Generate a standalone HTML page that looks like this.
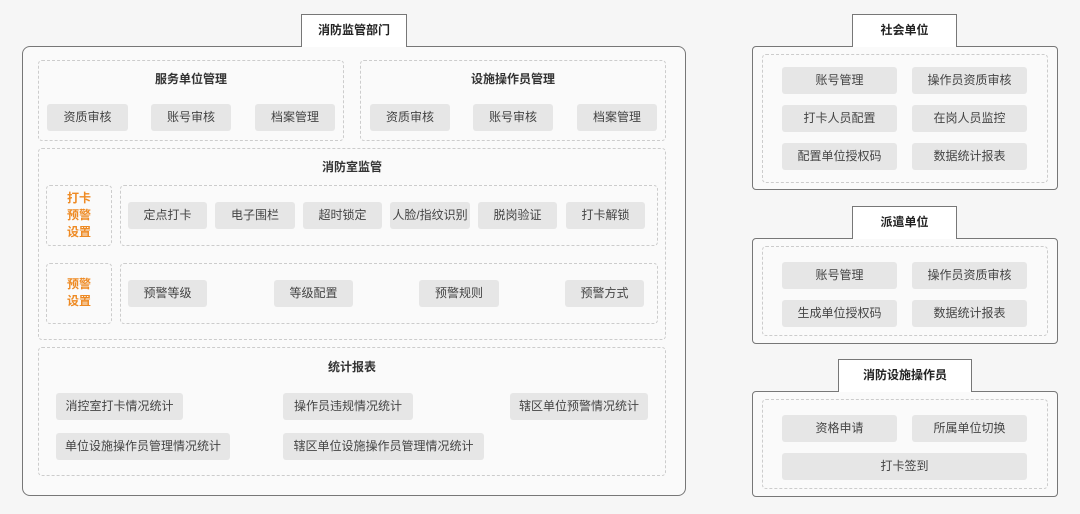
<!DOCTYPE html><html><head><meta charset="utf-8"><style>
body{margin:0;width:1080px;height:514px;background:#f6f6f6;position:relative;overflow:hidden;font-family:"Liberation Sans","Noto Sans CJK SC",sans-serif;font-size:12px;color:#444}
div{position:absolute;box-sizing:border-box}
.box{background:#fafafa;border:1.5px solid #777;border-radius:8px}
.tab{background:#fff;border:1.5px solid #777;border-bottom:none;font-weight:bold;color:#222;text-align:center;line-height:31px;font-size:12px}
.d{border:1px dashed #ccc;border-radius:4px}
.b{background:#e6e6e6;border-radius:3px;text-align:center;line-height:27px;height:27px;color:#444}
.t{font-weight:bold;color:#333;text-align:center}
.o{color:#ee8a23;font-weight:bold;text-align:center;line-height:17px}
</style></head><body>
<div class="box" style="left:22px;top:46px;width:664px;height:450px"></div>
<div class="tab" style="left:301px;top:14px;width:106px;height:33px">消防监管部门</div>
<div class="d" style="left:38px;top:60px;width:306px;height:81px"></div>
<div class="t" style="left:38px;top:70px;width:306px">服务单位管理</div>
<div class="b" style="left:47px;top:104px;width:81px">资质审核</div>
<div class="b" style="left:151px;top:104px;width:80px">账号审核</div>
<div class="b" style="left:255px;top:104px;width:80px">档案管理</div>
<div class="d" style="left:360px;top:60px;width:306px;height:81px"></div>
<div class="t" style="left:360px;top:70px;width:306px">设施操作员管理</div>
<div class="b" style="left:370px;top:104px;width:80px">资质审核</div>
<div class="b" style="left:473px;top:104px;width:80px">账号审核</div>
<div class="b" style="left:577px;top:104px;width:80px">档案管理</div>
<div class="d" style="left:38px;top:148px;width:628px;height:192px"></div>
<div class="t" style="left:38px;top:158px;width:628px">消防室监管</div>
<div class="d" style="left:46px;top:185px;width:66px;height:61px"></div>
<div class="o" style="left:46px;top:190px;width:66px">打卡<br>预警<br>设置</div>
<div class="d" style="left:120px;top:185px;width:538px;height:61px"></div>
<div class="b" style="left:128px;top:202px;width:79px">定点打卡</div>
<div class="b" style="left:215px;top:202px;width:80px">电子围栏</div>
<div class="b" style="left:303px;top:202px;width:79px">超时锁定</div>
<div class="b" style="left:390px;top:202px;width:80px">人脸/指纹识别</div>
<div class="b" style="left:478px;top:202px;width:79px">脱岗验证</div>
<div class="b" style="left:566px;top:202px;width:79px">打卡解锁</div>
<div class="d" style="left:46px;top:263px;width:66px;height:61px"></div>
<div class="o" style="left:46px;top:276px;width:66px">预警<br>设置</div>
<div class="d" style="left:120px;top:263px;width:538px;height:61px"></div>
<div class="b" style="left:128px;top:280px;width:79px">预警等级</div>
<div class="b" style="left:274px;top:280px;width:79px">等级配置</div>
<div class="b" style="left:419px;top:280px;width:80px">预警规则</div>
<div class="b" style="left:565px;top:280px;width:79px">预警方式</div>
<div class="d" style="left:38px;top:347px;width:628px;height:129px"></div>
<div class="t" style="left:38px;top:358px;width:628px">统计报表</div>
<div class="b" style="left:56px;top:393px;width:127px">消控室打卡情况统计</div>
<div class="b" style="left:283px;top:393px;width:130px">操作员违规情况统计</div>
<div class="b" style="left:510px;top:393px;width:138px">辖区单位预警情况统计</div>
<div class="b" style="left:56px;top:433px;width:174px">单位设施操作员管理情况统计</div>
<div class="b" style="left:283px;top:433px;width:201px">辖区单位设施操作员管理情况统计</div>

<div class="box" style="left:752px;top:46px;width:306px;height:144px;border-radius:4px"></div>
<div class="tab" style="left:852px;top:14px;width:105px;height:33px">社会单位</div>
<div class="d" style="left:762px;top:54px;width:286px;height:129px"></div>
<div class="b" style="left:782px;top:67px;width:115px">账号管理</div>
<div class="b" style="left:912px;top:67px;width:115px">操作员资质审核</div>
<div class="b" style="left:782px;top:105px;width:115px">打卡人员配置</div>
<div class="b" style="left:912px;top:105px;width:115px">在岗人员监控</div>
<div class="b" style="left:782px;top:143px;width:115px">配置单位授权码</div>
<div class="b" style="left:912px;top:143px;width:115px">数据统计报表</div>

<div class="box" style="left:752px;top:238px;width:306px;height:106px;border-radius:4px"></div>
<div class="tab" style="left:852px;top:206px;width:105px;height:33px">派遣单位</div>
<div class="d" style="left:762px;top:246px;width:286px;height:90px"></div>
<div class="b" style="left:782px;top:262px;width:115px">账号管理</div>
<div class="b" style="left:912px;top:262px;width:115px">操作员资质审核</div>
<div class="b" style="left:782px;top:300px;width:115px">生成单位授权码</div>
<div class="b" style="left:912px;top:300px;width:115px">数据统计报表</div>

<div class="box" style="left:752px;top:391px;width:306px;height:106px;border-radius:4px"></div>
<div class="tab" style="left:838px;top:359px;width:134px;height:33px">消防设施操作员</div>
<div class="d" style="left:762px;top:399px;width:286px;height:90px"></div>
<div class="b" style="left:782px;top:415px;width:115px">资格申请</div>
<div class="b" style="left:912px;top:415px;width:115px">所属单位切换</div>
<div class="b" style="left:782px;top:453px;width:245px">打卡签到</div>
</body></html>
